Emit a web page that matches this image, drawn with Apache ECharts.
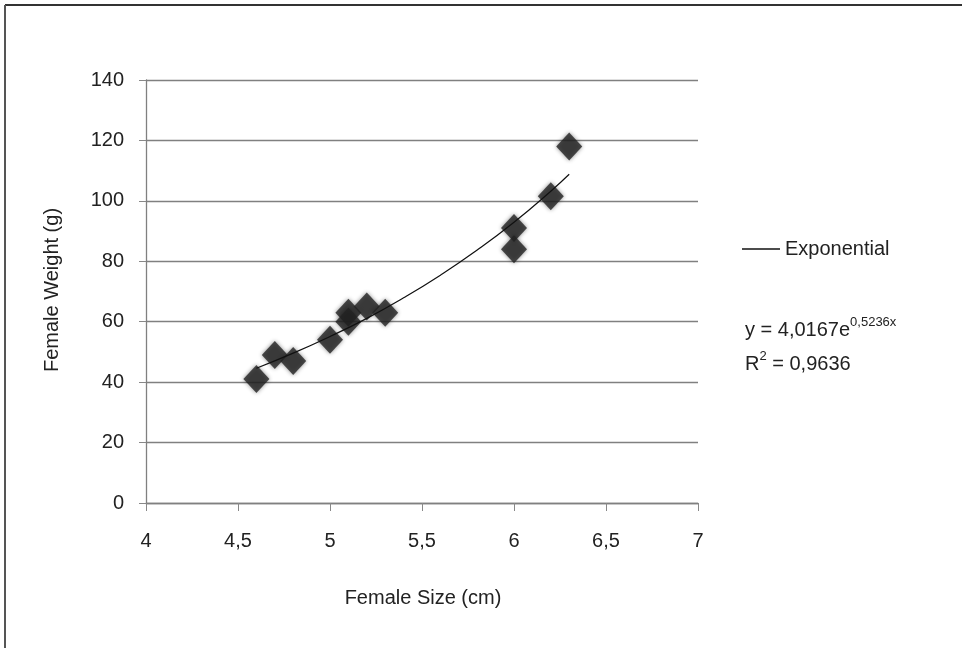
<!DOCTYPE html>
<html>
<head>
<meta charset="utf-8">
<script src="https://cdn.jsdelivr.net/npm/echarts@6/dist/echarts.min.js"></script>
<style>
html,body{margin:0;padding:0;background:#fff;}
#chart{width:962px;height:648px;}
</style>
</head>
<body>
<div id="chart"></div>
<script>
// Observed data (Female size cm, weight g)
var sizeCm = [4.6, 4.7, 4.8, 5.0, 5.1, 5.1, 5.2, 5.3, 6.0, 6.0, 6.2, 6.3];
var weightG = [41, 49, 47, 54, 63, 60, 65, 63, 91, 84, 101.5, 118];
// Exponential trendline values
var trendX = [4.6, 4.8, 5.0, 5.2, 5.4, 5.6, 5.8, 6.0, 6.2, 6.3];
var trendY = [44.6, 49.6, 55.1, 61.1, 67.9, 75.4, 83.7, 92.9, 103.2, 108.8];
var xTicks = ['4', '4,5', '5', '5,5', '6', '6,5', '7'];
var yTicks = ['0', '20', '40', '60', '80', '100', '120', '140'];

var chart = echarts.init(document.getElementById('chart'), null, {renderer: 'canvas'});
var font = 'Liberation Sans, Arial, sans-serif';
var fs = 20;
var option = {
  animation: false,
  backgroundColor: '#fff',
  grid: {left: 146, right: 264, top: 80, bottom: 145, containLabel: false},
  xAxis: {
    type: 'value', min: 4, max: 7, interval: 0.5,
    axisLine: {show: true, onZero: false, lineStyle: {color: '#808080', width: 1.3}},
    axisTick: {show: true, length: 8, lineStyle: {color: '#888'}},
    splitLine: {show: false},
    axisLabel: {
      color: '#222', fontSize: fs, fontFamily: font, margin: 28,
      formatter: function (v) { return xTicks[Math.round((v - 4) / 0.5)]; }
    }
  },
  yAxis: {
    type: 'value', min: 0, max: 140, interval: 20,
    axisLine: {show: true, lineStyle: {color: '#808080', width: 1.3}},
    axisTick: {show: true, length: 7, lineStyle: {color: '#888'}},
    splitLine: {show: true, lineStyle: {color: '#808080', width: 1.3}},
    axisLabel: {
      color: '#222', fontSize: fs, fontFamily: font, margin: 22,
      formatter: function (v) { return yTicks[Math.round(v / 20)]; }
    }
  },
  legend: {
    show: true, left: 737, top: 234, orient: 'vertical',
    icon: 'rect', itemWidth: 38, itemHeight: 1.3, itemGap: 6,
    textStyle: {color: '#222', fontSize: fs, fontFamily: font},
    data: [{name: 'Exponential'}]
  },
  series: [
    {
      name: 'Data', type: 'scatter',
      symbol: 'diamond', symbolSize: [26, 28],
      itemStyle: {color: '#232323', shadowBlur: 4, shadowColor: 'rgba(0,0,0,0.55)'},
      data: sizeCm.map(function (x, i) { return [x, weightG[i]]; }),
      z: 3
    },
    {
      name: 'Exponential', type: 'line', smooth: true, symbol: 'none',
      lineStyle: {color: '#111', width: 1.2},
      itemStyle: {color: '#111'},
      data: trendX.map(function (x, i) { return [x, trendY[i]]; }),
      z: 4
    }
  ],
  graphic: [
    {type: 'line', shape: {x1: 5, y1: 5, x2: 962, y2: 5}, style: {stroke: '#333', lineWidth: 2}},
    {type: 'line', shape: {x1: 5, y1: 5, x2: 5, y2: 648}, style: {stroke: '#555', lineWidth: 2}},
    {type: 'text', x: 423, y: 598, style: {text: 'Female Size (cm)', fill: '#222', fontSize: fs, fontFamily: font, align: 'center', verticalAlign: 'middle'}},
    {type: 'text', x: 52, y: 290, rotation: Math.PI / 2, style: {text: 'Female Weight (g)', fill: '#222', fontSize: fs, fontFamily: font, align: 'center', verticalAlign: 'middle'}},
    {type: 'text', x: 745, y: 340, style: {
      text: '{a|y = 4,0167e}{s|0,5236x}\n{a|R}{s|2}{a| = 0,9636}',
      verticalAlign: 'middle', fill: '#222', fontFamily: font,
      rich: {
        a: {fontSize: fs, fontFamily: font, fill: '#222', lineHeight: 34, verticalAlign: 'bottom'},
        s: {fontSize: 13, fontFamily: font, fill: '#222', lineHeight: 34, verticalAlign: 'bottom', padding: [0, 0, 11, 0]}
      }
    }}
  ]
};
chart.setOption(option);
</script>
</body>
</html>
